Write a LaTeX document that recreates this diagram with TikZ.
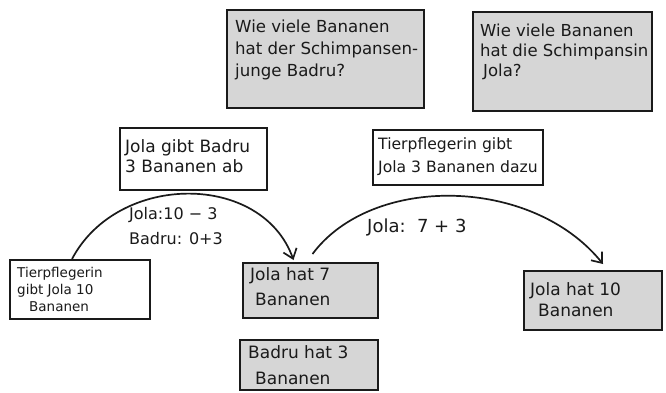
\documentclass[tikz,border=0pt]{standalone}
\usepackage{fontspec}
\setmainfont{DejaVu Sans}
\usetikzlibrary{arrows.meta}
\definecolor{ink}{RGB}{26,26,26}
\definecolor{boxgray}{RGB}{214,214,214}
\tikzset{
  box/.style={draw=ink, line width=2pt, rectangle, inner sep=0pt},
  question/.style={box, fill=boxgray},
  result/.style={box, fill=boxgray},
  action/.style={box, fill=white},
  txt/.style={text=ink, align=left, inner sep=0pt, anchor=north west},
  flow/.style={draw=ink, line width=1.7pt, -{Straight Barb[length=9pt,width=14pt,line width=1.7pt]}}
}
\begin{document}
\begin{tikzpicture}[x=1pt,y=-1pt]
  \useasboundingbox (0,0) rectangle (666,392);

  % questions
  \node[question, minimum width=197pt, minimum height=98pt] (q1) at (325.5,59) {};
  \node[txt, font=\fontsize{16.6}{22}\selectfont] (q1t) at (235,20)
    {Wie viele Bananen\\hat der Schimpansen-\\junge Badru?};
  \node[question, minimum width=179pt, minimum height=99pt] (q2) at (562.5,61.5) {};
  \node[txt, font=\fontsize{16.5}{20}\selectfont] (q2t) at (480,24)
    {Wie viele Bananen\\hat die Schimpansin\\\hspace{3pt}Jola?};

  % actions
  \node[action, minimum width=147pt, minimum height=62pt] (a1) at (193.5,159) {};
  \node[txt, font=\fontsize{17}{20}\selectfont] (a1t) at (125,139)
    {Jola gibt Badru\\3 Bananen ab};
  \node[action, minimum width=170pt, minimum height=55pt] (a2) at (458,157.5) {};
  \node[txt, font=\fontsize{15.6}{23}\selectfont] (a2t) at (378,137)
    {Tierpflegerin gibt\\Jola 3 Bananen dazu};

  % states
  \node[action, minimum width=140pt, minimum height=59pt] (s) at (80,289.5) {};
  \node[txt, font=\fontsize{13.5}{17}\selectfont] (st) at (17,267)
    {Tierpflegerin\\gibt Jola 10\\\hspace{12pt}Bananen};
  \node[result, minimum width=135pt, minimum height=55pt] (j7) at (310.5,290.5) {};
  \node[txt, font=\fontsize{17}{25}\selectfont] (j7t) at (250,267)
    {Jola hat 7\\\hspace{5pt}Bananen};
  \node[result, minimum width=138pt, minimum height=59pt] (j10) at (593,300.5) {};
  \node[txt, font=\fontsize{17}{21}\selectfont] (j10t) at (530,282)
    {Jola hat 10\\\hspace{8pt}Bananen};
  \node[result, minimum width=138pt, minimum height=50pt] (b3) at (309,365) {};
  \node[txt, font=\fontsize{17}{26}\selectfont] (b3t) at (248,345)
    {Badru hat 3\\\hspace{7pt}Bananen};

  % transitions
  \draw[flow] ([xshift=-8pt]s.north) .. controls (118,172) and (262,172) .. ([xshift=-17pt,yshift=2pt]j7.north);
  \draw[flow] ([xshift=2pt,yshift=8pt]j7.north) .. controls (372,174) and (532,176) .. ([xshift=10pt,yshift=6pt]j10.north);

  % calculations
  \node[txt, font=\fontsize{16}{25}\selectfont] (c1) at (129,207)
    {Jola:10 − 3\\Badru: 0+3};
  \node[txt, font=\fontsize{18}{22}\selectfont, anchor=west] (c2) at (367,227)
    {Jola:\ \ 7 + 3};
\end{tikzpicture}
\end{document}
